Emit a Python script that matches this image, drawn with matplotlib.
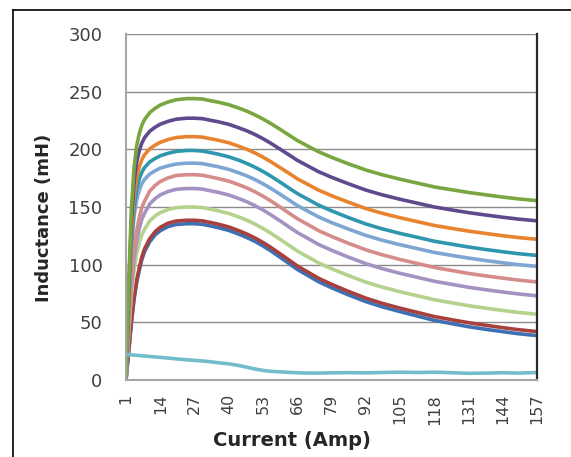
import matplotlib
matplotlib.use("Agg")
import matplotlib.pyplot as plt
from matplotlib.lines import Line2D

current = [1, 2, 3, 4, 5, 6, 7, 8, 10, 12, 14, 17, 20,
           24, 27, 30, 33, 36, 40, 44, 47, 50, 53, 56, 60, 63, 66, 70, 74,
           79, 85, 92, 98, 105, 112, 118, 125, 131, 138, 144, 150, 157]

green = [0, 80.5, 146.4, 183, 202.5, 213.5, 220.8, 225.7, 231.8, 235.5, 238.4, 241.1, 243,
         244, 244, 243.6, 242.2, 240.9, 238.7, 235.6, 233, 229.8, 226.3, 222.3, 216.6,
         212.1, 207.7, 202.8, 198, 193.1, 187.8, 182.1, 178.1, 174.1, 170.5, 167.4,
         164.8, 162.6, 160.4, 158.6, 157, 155.5]
purple = [0, 74.9, 136.2, 170.3, 188.4, 198.6, 205.4, 210, 215.7, 219.1, 221.8, 224.3, 226.1,
          227, 227, 226.6, 225.2, 223.9, 221.7, 218.5, 215.9, 212.8, 209.2, 205.2, 199.4,
          195, 190.5, 185.6, 180.7, 175.8, 170.5, 164.7, 160.7, 156.7, 153.1, 150,
          147.3, 145.1, 142.9, 141.1, 139.5, 138]
orange = [0, 69.6, 126.6, 158.3, 175.1, 184.6, 191, 195.2, 200.5, 203.6, 206.1, 208.5, 210.2,
          211, 211, 210.6, 209.2, 207.9, 205.7, 202.5, 199.9, 196.8, 193.2, 189.2, 183.4,
          179, 174.5, 169.6, 164.7, 159.8, 154.5, 148.7, 144.7, 140.7, 137.1, 134,
          131.3, 129.1, 126.9, 125.1, 123.5, 122]
teal = [0, 65.7, 119.4, 149.3, 165.2, 174.1, 180.1, 184.1, 189.1, 192, 194.4, 196.6, 198.2,
        199, 199, 198.5, 197.2, 195.8, 193.5, 190.4, 187.6, 184.4, 180.8, 176.7, 170.8,
        166.2, 161.7, 156.7, 151.7, 146.7, 141.2, 135.3, 131.2, 127.1, 123.5, 120.3,
        117.6, 115.3, 113, 111.2, 109.5, 108]
light_blue = [0, 62, 112.8, 141, 156, 164.5, 170.1, 173.9, 178.6, 181.4, 183.7, 185.7, 187.2,
              188, 188, 187.6, 186.2, 184.9, 182.6, 179.5, 176.8, 173.7, 170.1, 166.1, 160.3,
              155.8, 151.3, 146.4, 141.5, 136.5, 131.2, 125.4, 121.3, 117.3, 113.7, 110.6,
              107.9, 105.7, 103.4, 101.6, 100, 98.5]
salmon = [0, 45.4, 85.4, 112.1, 129.1, 140.6, 149.5, 154.9, 163.8, 168.6, 172.1, 175.3, 177.3,
          178, 178, 177.5, 176.1, 174.7, 172.4, 169.2, 166.4, 163.1, 159.4, 155.2, 149.2,
          144.5, 139.9, 134.8, 129.6, 124.5, 118.9, 112.9, 108.7, 104.5, 100.8, 97.6,
          94.8, 92.4, 90.1, 88.3, 86.6, 85]
lavender = [0, 42.3, 79.7, 104.6, 120.4, 131.1, 139.4, 144.4, 152.7, 157.2, 160.5, 163.5, 165.3,
            166, 166, 165.5, 164.1, 162.7, 160.4, 157.2, 154.4, 151.1, 147.4, 143.2, 137.2,
            132.5, 127.9, 122.8, 117.6, 112.5, 106.9, 100.9, 96.7, 92.5, 88.8, 85.6,
            82.8, 80.4, 78.1, 76.3, 74.6, 73]
light_green = [0, 38.3, 72, 94.5, 108.8, 118.5, 126, 130.5, 138, 142.1, 145.1, 147.8, 149.4,
               150, 150, 149.5, 148.1, 146.7, 144.4, 141.2, 138.4, 135.1, 131.4, 127.2, 121.2,
               116.5, 111.9, 106.8, 101.6, 96.5, 90.9, 84.9, 80.7, 76.5, 72.8, 69.6,
               66.8, 64.4, 62.1, 60.3, 58.6, 57]
red = [0, 24.9, 49.9, 70.6, 85.9, 97, 106.6, 113.6, 122.6, 128.5, 132.4, 136, 137.8,
       138.5, 138.5, 138, 136.6, 135.1, 132.7, 129.3, 126.4, 123.1, 119.2, 114.9, 108.6,
       103.8, 98.9, 93.6, 88.3, 83, 77.2, 71, 66.6, 62.3, 58.4, 55,
       52.1, 49.7, 47.3, 45.4, 43.6, 42]
blue = [0, 24.4, 48.8, 69.1, 84, 94.9, 104.3, 111.1, 119.9, 125.7, 129.5, 133.1, 134.8,
        135.5, 135.5, 135, 133.6, 132.1, 129.7, 126.3, 123.4, 120.1, 116.2, 111.9, 105.6,
        100.8, 95.9, 90.6, 85.3, 80, 74.2, 68, 63.6, 59.3, 55.2, 51.7,
        48.7, 46.2, 43.8, 41.9, 40.1, 38.5]
cyan = [22, 22, 21.8, 21.6, 21.4, 21.2, 21, 20.8, 20.4, 20, 19.6, 19, 18.3,
        17.5, 17, 16.5, 15.8, 15, 14, 12.5, 11, 9.5, 8.3, 7.5, 7,
        6.6, 6.3, 6, 6, 6.2, 6.4, 6.2, 6.5, 6.8, 6.5, 6.8,
        6.3, 5.8, 6, 6.3, 6, 6.5]

series = [blue, red, light_green, lavender, salmon, light_blue, teal, orange,
          purple, green, cyan]
colors = ["#3E70B4", "#A8403E", "#B5D28D", "#A392C2", "#D58C8A", "#7EA6D2",
          "#2E97AF", "#E8842F", "#5E4A8C", "#7AA640", "#72BCCB"]

x_ticks = list(range(1, 158, 13))
y_ticks = [0, 50, 100, 150, 200, 250, 300]

fig = plt.figure(figsize=(5.71, 4.57), dpi=100)
ax = fig.add_axes([0.2207, 0.1685, 0.7198, 0.7571])

for vals, c in zip(series, colors):
    ax.plot(current, vals, color=c, lw=2.6, solid_joinstyle="round")

ax.set_xlim(1, 157)
ax.set_ylim(0, 300)
ax.set_xticks(x_ticks)
ax.set_yticks(y_ticks)
ax.tick_params(axis="x", length=0, pad=10, labelsize=11.5, labelcolor="#404040",
               labelrotation=90)
ax.tick_params(axis="y", length=0, pad=17, labelsize=13, labelcolor="#404040")
ax.grid(axis="y", color="#8C8C8C", lw=1)
ax.set_axisbelow(True)

ax.spines["top"].set_visible(False)
ax.spines["left"].set_color("#A6A6A6")
ax.spines["left"].set_linewidth(1.5)
ax.spines["bottom"].set_color("#A6A6A6")
ax.spines["bottom"].set_linewidth(1.5)
ax.spines["right"].set_color("#2A2A2A")
ax.spines["right"].set_linewidth(1.6)

ax.set_ylabel("Inductance (mH)", fontsize=13, fontweight="bold", color="#262626")
ax.yaxis.set_label_coords(-0.178, 0.47)
fig.text(292 / 571, 1 - 441 / 457, "Current (Amp)", fontsize=14,
         fontweight="bold", color="#262626", ha="center", va="center")

# outer chart border (left and top edges visible)
fig.add_artist(Line2D([13 / 571, 13 / 571], [0, 1 - 10 / 457],
                      transform=fig.transFigure, color="black", lw=1.2))
fig.add_artist(Line2D([13 / 571, 1], [1 - 10 / 457, 1 - 10 / 457],
                      transform=fig.transFigure, color="black", lw=1.2))

fig.savefig("out.png", dpi=100)
